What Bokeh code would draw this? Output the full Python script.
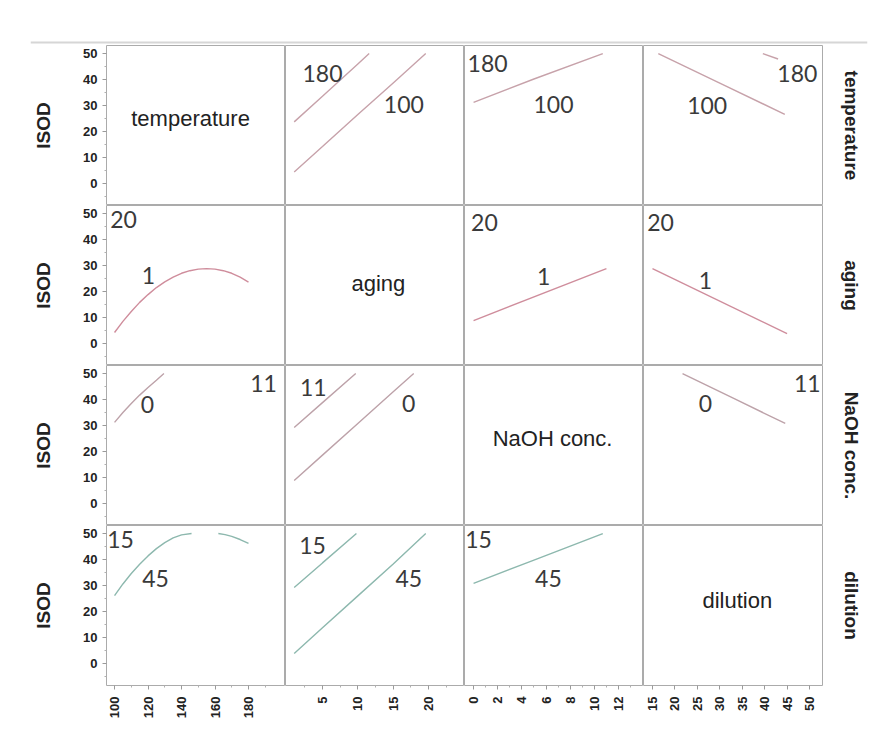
import math
from bokeh.plotting import figure
from bokeh.layouts import column, row
from bokeh.models import Range1d, FixedTicker, LinearAxis, Label, Span
from bokeh.embed import file_html
from bokeh.resources import INLINE

NAN = float("nan")

# ---------------- data ----------------
FACTORS = ["temperature", "aging", "NaOH conc.", "dilution"]
Y_LABEL = "ISOD"

temp_ticks = [100, 120, 140, 160, 180]
aging_ticks = [5, 10, 15, 20]
naoh_ticks = [0, 2, 4, 6, 8, 10, 12]
dil_ticks = [15, 20, 25, 30, 35, 40, 45, 50]
isod_ticks = [0, 10, 20, 30, 40, 50]

# row 1: temperature traces (100, 180)
t_vs_aging_180_x = [1, 5, 10, 11.6]
t_vs_aging_180_y = [23.7, 33.6, 46.0, 50.0]
t_vs_aging_100_x = [1, 5, 10, 15, 19.6]
t_vs_aging_100_y = [4.4, 14.2, 26.5, 38.7, 50.0]
t_vs_naoh_100_x = [0, 5, 10.7]
t_vs_naoh_100_y = [31.2, 40.2, 50.0]
t_vs_dil_100_x = [16.3, 30, 44.5]
t_vs_dil_100_y = [50.0, 38.6, 26.6]
t_vs_dil_180_x = [39.6, 43.0]
t_vs_dil_180_y = [50.0, 47.9]

# row 2: aging traces (1, 20)
a_vs_temp_1_x = [100, 105, 110, 115, 120, 125, 130, 135, 140, 145, 150, 155,
                 160, 165, 170, 175, 180]
a_vs_temp_1_y = [4.2, 8.5, 12.3, 15.8, 18.8, 21.5, 23.7, 25.5, 27.0, 28.0, 28.6,
                 28.8, 28.6, 28.0, 27.0, 25.5, 23.6]
a_vs_naoh_1_x = [0, 11]
a_vs_naoh_1_y = [8.8, 28.8]
a_vs_dil_1_x = [15, 45]
a_vs_dil_1_y = [28.8, 3.8]

# row 3: NaOH conc. traces (0, 11)
n_vs_temp_0_x = [100, 105, 110, 115, 120, 125, 129.5]
n_vs_temp_0_y = [31.2, 35.0, 38.5, 41.7, 44.6, 47.4, 50.0]
n_vs_aging_11_x = [1, 5, 9.7]
n_vs_aging_11_y = [29.2, 38.8, 50.0]
n_vs_aging_0_x = [1, 5, 10, 15, 17.9]
n_vs_aging_0_y = [8.8, 18.6, 30.8, 43.0, 50.0]
n_vs_dil_0_x = [21.7, 33, 44.6]
n_vs_dil_0_y = [50.0, 40.5, 30.8]

# row 4: dilution traces (15, 45)
d_vs_temp_45_x = [100, 105, 110, 115, 120, 125, 130, 135, 140, 146.0, NAN,
                  162, 166, 170, 175, 180]
d_vs_temp_45_y = [26.1, 30.6, 34.6, 38.2, 41.4, 44.2, 46.5, 48.3, 49.5, 50.0, NAN,
                  50.0, 49.6, 48.9, 47.7, 46.2]
d_vs_aging_15_x = [1, 5, 9.8]
d_vs_aging_15_y = [29.2, 38.7, 50.0]
d_vs_aging_45_x = [1, 5, 10, 15, 19.6]
d_vs_aging_45_y = [3.8, 13.7, 26.0, 38.3, 50.0]
d_vs_naoh_45_x = [0, 5, 10.7]
d_vs_naoh_45_y = [30.8, 39.8, 50.0]

LINES = [
    (0, 1, t_vs_aging_180_x, t_vs_aging_180_y),
    (0, 1, t_vs_aging_100_x, t_vs_aging_100_y),
    (0, 2, t_vs_naoh_100_x, t_vs_naoh_100_y),
    (0, 3, t_vs_dil_100_x, t_vs_dil_100_y),
    (0, 3, t_vs_dil_180_x, t_vs_dil_180_y),
    (1, 0, a_vs_temp_1_x, a_vs_temp_1_y),
    (1, 2, a_vs_naoh_1_x, a_vs_naoh_1_y),
    (1, 3, a_vs_dil_1_x, a_vs_dil_1_y),
    (2, 0, n_vs_temp_0_x, n_vs_temp_0_y),
    (2, 1, n_vs_aging_11_x, n_vs_aging_11_y),
    (2, 1, n_vs_aging_0_x, n_vs_aging_0_y),
    (2, 3, n_vs_dil_0_x, n_vs_dil_0_y),
    (3, 0, d_vs_temp_45_x, d_vs_temp_45_y),
    (3, 1, d_vs_aging_15_x, d_vs_aging_15_y),
    (3, 1, d_vs_aging_45_x, d_vs_aging_45_y),
    (3, 2, d_vs_naoh_45_x, d_vs_naoh_45_y),
]

# trace-level labels (row, col, text, x, y)
LEVEL_LABELS = [
    (0, 1, "180", 5.0, 42.3), (0, 1, "100", 16.5, 30.4),
    (0, 2, "180", 1.16, 46.3), (0, 2, "100", 6.62, 30.4),
    (0, 3, "180", 47.3, 42.3), (0, 3, "100", 27.2, 30.0),
    (1, 0, "20", 105.4, 47.6), (1, 0, "1", 120.3, 26.1),
    (1, 2, "20", 0.9, 46.6), (1, 2, "1", 5.8, 25.8),
    (1, 3, "20", 16.8, 46.6), (1, 3, "1", 26.8, 24.2),
    (2, 0, "0", 119.7, 38.1), (2, 0, "11", 189.0, 46.3),
    (2, 1, "11", 3.7, 44.6), (2, 1, "0", 17.2, 38.5),
    (2, 3, "11", 49.5, 46.3), (2, 3, "0", 26.8, 38.5),
    (3, 0, "15", 103.6, 47.6), (3, 0, "45", 124.5, 32.7),
    (3, 1, "15", 3.6, 45.4), (3, 1, "45", 17.2, 32.7),
    (3, 2, "15", 0.41, 47.6), (3, 2, "45", 6.2, 32.7),
]
DIAG_POS = [(145.4, 25.0), (12.9, 23.1), (6.54, 25.0), (33.9, 24.2)]

# ---------------- layout / style ----------------
X_RANGES = [(95.2, 202.1), (-0.23, 25.08), (-0.75, 14.07), (13.0, 52.9)]
Y_RANGE = (-8.5, 53.1)
X_TICKS = [temp_ticks, aging_ticks, naoh_ticks, dil_ticks]
X_MINOR = [[110, 130, 150, 170, 190], [2.5, 7.5, 12.5, 17.5, 22.5],
           [1, 3, 5, 7, 9, 11, 13], []]
Y_MINOR = [-5, 5, 15, 25, 35, 45]
ROW_COLORS = ["#c7a2aa", "#cf8d9c", "#bda2a9", "#8db8ae"]

FW, FH = 179, 160
LEFT, RIGHT, TOP, BOTTOM = 106, 67, 45, 66
TICK_FONT = "Liberation Sans"


def style_axis(ax):
    ax.axis_line_color = None
    ax.major_tick_line_color = "#9a9a9a"
    ax.minor_tick_line_color = "#b0b0b0"
    ax.major_tick_in = 0
    ax.major_tick_out = 4
    ax.minor_tick_in = 0
    ax.minor_tick_out = 2
    ax.major_label_text_font = TICK_FONT
    ax.major_label_text_font_size = "13px"
    ax.major_label_text_font_style = "bold"
    ax.major_label_text_color = "#222222"


def make_panel(r, c):
    w = FW + (LEFT if c == 0 else 0) + (RIGHT if c == 3 else 0)
    h = FH + (BOTTOM if r == 3 else 0)
    p = figure(width=w, height=h,
               x_range=Range1d(*X_RANGES[c]), y_range=Range1d(*Y_RANGE),
               output_backend="svg", toolbar_location=None,
               x_axis_location=None, y_axis_location=None,
               min_border_left=LEFT if c == 0 else 0,
               min_border_right=RIGHT if c == 3 else 0,
               min_border_top=0,
               min_border_bottom=BOTTOM if r == 3 else 0)
    p.grid.visible = False
    p.outline_line_color = "#ababab"
    p.outline_line_width = 1
    p.background_fill_color = "white"
    p.border_fill_color = "white"

    if c == 0:
        ya = LinearAxis(ticker=FixedTicker(ticks=isod_ticks, minor_ticks=Y_MINOR),
                        axis_label=Y_LABEL)
        style_axis(ya)
        ya.major_label_standoff = 5
        ya.axis_label_standoff = 26
        ya.axis_label_text_font = TICK_FONT
        ya.axis_label_text_font_size = "19px"
        ya.axis_label_text_font_style = "bold"
        ya.axis_label_text_color = "#222222"
        p.add_layout(ya, "left")
    if r == 3:
        xa = LinearAxis(ticker=FixedTicker(ticks=X_TICKS[c], minor_ticks=X_MINOR[c]))
        style_axis(xa)
        xa.major_label_orientation = math.pi / 2
        xa.major_label_standoff = 7
        p.add_layout(xa, "below")
    if c == 3:
        ra = LinearAxis(ticker=FixedTicker(ticks=[]), axis_label=FACTORS[r])
        ra.axis_line_color = None
        ra.major_tick_line_color = None
        ra.minor_tick_line_color = None
        ra.major_tick_out = 0
        ra.minor_tick_out = 0
        ra.major_label_standoff = 0
        ra.axis_label_standoff = 18
        ra.axis_label_text_font = TICK_FONT
        ra.axis_label_text_font_size = "19px"
        ra.axis_label_text_font_style = "bold"
        ra.axis_label_text_color = "#222222"
        p.add_layout(ra, "right")

    if r == c:
        dx, dy = DIAG_POS[r]
        p.add_layout(Label(x=dx, y=dy, text=FACTORS[r], text_font=TICK_FONT,
                           text_font_size="22px", text_color="#222222",
                           text_align="center", text_baseline="middle"))

    for (lr, lc, xs, ys) in LINES:
        if lr == r and lc == c:
            p.line(xs, ys, line_color=ROW_COLORS[r], line_width=1.4)

    for (lr, lc, txt, lx, ly) in LEVEL_LABELS:
        if lr == r and lc == c:
            p.add_layout(Label(x=lx, y=ly, text=txt, text_font="Lato",
                               text_font_size="23px", text_color="#3a3a3a",
                               text_align="center", text_baseline="middle"))
    return p


# header strip carrying the thin grey rule above the matrix
header = figure(width=889, height=TOP, x_range=Range1d(0, 1), y_range=Range1d(0, TOP),
                output_backend="svg", toolbar_location=None,
                x_axis_location=None, y_axis_location=None,
                min_border_left=30, min_border_right=22, min_border_top=0,
                min_border_bottom=0)
header.grid.visible = False
header.outline_line_color = None
header.add_layout(Span(location=3, dimension="width", line_color="#d6d6d6", line_width=2))

rows = [header]
for r in range(4):
    rows.append(row([make_panel(r, c) for c in range(4)], spacing=0))

layout = column(rows, spacing=0)

open("out.html", "w").write(file_html(layout, INLINE))
